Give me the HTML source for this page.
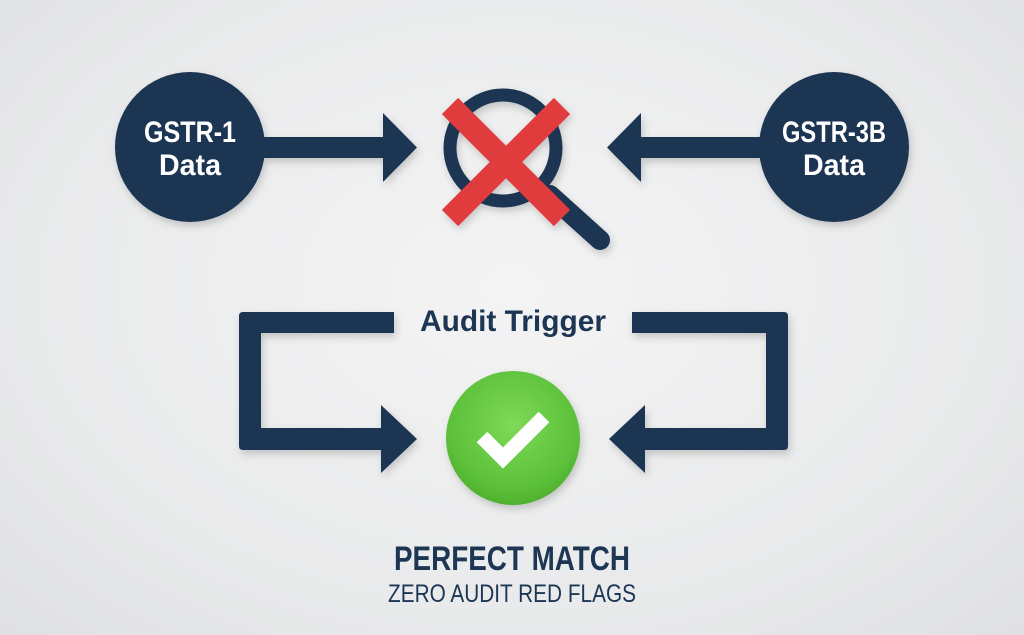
<!DOCTYPE html>
<html><head><meta charset="utf-8"><style>
html,body{margin:0;padding:0;width:1024px;height:635px;overflow:hidden;background:radial-gradient(ellipse at 50% 45%,#f4f4f5 0%,#e8e9ea 70%,#dfe0e2 100%);}
svg{display:block}
text{font-family:"Liberation Sans",sans-serif;}
</style></head><body>
<svg width="1024" height="635" viewBox="0 0 1024 635">
<defs>
<filter id="sh" x="-20%" y="-20%" width="140%" height="140%"><feDropShadow dx="2" dy="4" stdDeviation="4" flood-color="#000" flood-opacity="0.18"/></filter>
<radialGradient id="g" cx="50%" cy="40%" r="60%"><stop offset="0" stop-color="#7ed957"/><stop offset="0.8" stop-color="#5cc03a"/><stop offset="1" stop-color="#4fb02f"/></radialGradient>
</defs>
<g fill="#1d3653" filter="url(#sh)">
<circle cx="190" cy="147" r="75"/>
<rect x="255" y="137" width="130" height="21"/>
<polygon points="383,113 417,147.5 383,182"/>
<circle cx="834" cy="147" r="75"/>
<rect x="640" y="137" width="130" height="21"/>
<polygon points="641,113 607,147.5 641,182"/>
<path d="M394,312 H243 Q239,312 239,316 V446 Q239,450 243,450 H383 V428 H261 V333 H394 Z"/>
<polygon points="381,405 417,439 381,473"/>
<path d="M632,312 H784 Q788,312 788,316 V446 Q788,450 784,450 H645 V428 H766 V333 H632 Z"/>
<polygon points="645,405 609,439 645,473"/>
</g>
<g filter="url(#sh)">
<circle cx="503" cy="148" r="53" fill="none" stroke="#1d3653" stroke-width="13"/>
<line x1="550" y1="195" x2="600" y2="240" stroke="#1d3653" stroke-width="20" stroke-linecap="round"/>
<line x1="450" y1="106" x2="562" y2="218" stroke="#e03a3c" stroke-width="23"/>
<line x1="562" y1="106" x2="450" y2="218" stroke="#e03a3c" stroke-width="23"/>
<circle cx="513" cy="438" r="67" fill="url(#g)"/>
<polyline points="482,437 503,458 544,417" fill="none" stroke="#fff" stroke-width="15"/>
</g>
<g fill="#fff" font-weight="bold" font-size="30" text-anchor="middle">
<text x="190" y="142" textLength="92" lengthAdjust="spacingAndGlyphs">GSTR-1</text>
<text x="190" y="175" textLength="62" lengthAdjust="spacingAndGlyphs">Data</text>
<text x="834" y="142" textLength="104" lengthAdjust="spacingAndGlyphs">GSTR-3B</text>
<text x="834" y="175" textLength="62" lengthAdjust="spacingAndGlyphs">Data</text>
</g>
<g fill="#1d3653" text-anchor="middle">
<text x="513" y="331" font-size="30" font-weight="bold" textLength="186" lengthAdjust="spacingAndGlyphs">Audit Trigger</text>
<text x="512" y="570" font-size="34" font-weight="bold" textLength="236" lengthAdjust="spacingAndGlyphs">PERFECT MATCH</text>
<text x="512" y="602" font-size="25" textLength="248" lengthAdjust="spacingAndGlyphs">ZERO AUDIT RED FLAGS</text>
</g>
</svg>
</body></html>
